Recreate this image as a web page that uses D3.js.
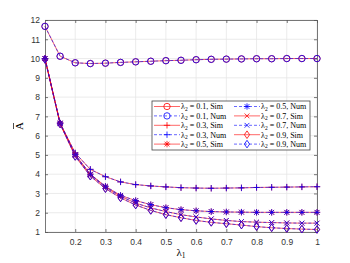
<!DOCTYPE html>
<html>
<head>
<meta charset="utf-8">
<script src="https://cdn.jsdelivr.net/npm/d3@7"></script>
<style>
  body { margin: 0; background: #fff; }
  svg { display: block; }
</style>
</head>
<body>
<script>
// -------------------- DATA --------------------
var lambda1 = [0.1, 0.15, 0.2, 0.25, 0.3, 0.35, 0.4, 0.45, 0.5, 0.55,
               0.6, 0.65, 0.7, 0.75, 0.8, 0.85, 0.9, 0.95, 1.0];

var a01 = [11.67, 10.12, 9.78, 9.74, 9.76, 9.8, 9.83, 9.86, 9.89, 9.91,
           9.94, 9.96, 9.97, 9.98, 9.99, 9.99, 10.0, 10.0, 10.0];
var a03 = [10.0, 6.65, 5.1, 4.25, 3.87, 3.6, 3.46, 3.39, 3.34, 3.3,
           3.28, 3.27, 3.28, 3.29, 3.31, 3.32, 3.33, 3.34, 3.35];
var a05 = [10.0, 6.65, 5.02, 4.0, 3.37, 2.9, 2.63, 2.42, 2.26, 2.16,
           2.1, 2.06, 2.04, 2.03, 2.02, 2.02, 2.02, 2.02, 2.02];
var a07 = [10.0, 6.62, 4.97, 3.97, 3.32, 2.85, 2.5, 2.25, 2.06, 1.9,
           1.78, 1.68, 1.6, 1.54, 1.51, 1.49, 1.47, 1.46, 1.46];
var a09 = [9.95, 6.6, 4.92, 3.9, 3.25, 2.77, 2.4, 2.12, 1.9, 1.74,
           1.6, 1.5, 1.43, 1.36, 1.28, 1.22, 1.18, 1.15, 1.13];

var lambda2 = ["0.1", "0.3", "0.5", "0.7", "0.9"];
var seriesVals = [a01, a03, a05, a07, a09];
var markers = ["circle", "plus", "star", "cross", "diamond"];

var xTicks = [0.2, 0.3, 0.4, 0.5, 0.6, 0.7, 0.8, 0.9, 1];
var yTicks = [1, 2, 3, 4, 5, 6, 7, 8, 9, 10, 11, 12];

// -------------------- DIMENSIONS --------------------
var w = 350, h = 263;
var margin = { top: 20, right: 33, bottom: 31, left: 45 };
var innerW = w - margin.left - margin.right;
var innerH = h - margin.top - margin.bottom;

var svg = d3.select("body").append("svg")
  .attr("width", w)
  .attr("height", h);

var g = svg.append("g")
  .attr("transform", "translate(" + margin.left + "," + margin.top + ")");

var x = d3.scaleLinear().domain([0.1, 1]).range([0, innerW]);
var y = d3.scaleLinear().domain([1, 12]).range([innerH, 0]);

// -------------------- GRID --------------------
g.selectAll(".gx").data(xTicks).enter().append("line")
  .attr("x1", function(d){ return x(d); })
  .attr("x2", function(d){ return x(d); })
  .attr("y1", 0).attr("y2", innerH)
  .attr("stroke", "#e6e6e6").attr("stroke-width", 0.8);

g.selectAll(".gy").data(yTicks).enter().append("line")
  .attr("x1", 0).attr("x2", innerW)
  .attr("y1", function(d){ return y(d); })
  .attr("y2", function(d){ return y(d); })
  .attr("stroke", "#e6e6e6").attr("stroke-width", 0.8);

// -------------------- AXES --------------------
var axisColor = "#555";
var tickFont = "'Liberation Sans', Arial, sans-serif";

var xAxis = d3.axisBottom(x).tickValues(xTicks).tickSizeInner(-3).tickSizeOuter(0)
  .tickFormat(d3.format("~g")).tickPadding(7);
var yAxis = d3.axisLeft(y).tickValues(yTicks).tickSizeInner(-3).tickSizeOuter(0)
  .tickPadding(5);

var gx = g.append("g").attr("transform", "translate(0," + innerH + ")").call(xAxis);
var gy = g.append("g").call(yAxis);
var gxt = g.append("g").call(d3.axisTop(x).tickValues(xTicks).tickSizeInner(-3).tickSizeOuter(0).tickFormat(""));
var gyr = g.append("g").attr("transform", "translate(" + innerW + ",0)")
  .call(d3.axisRight(y).tickValues(yTicks).tickSizeInner(-3).tickSizeOuter(0).tickFormat(""));

[gx, gy, gxt, gyr].forEach(function(a) {
  a.select(".domain").attr("stroke", axisColor).attr("stroke-width", 0.8);
  a.selectAll(".tick line").attr("stroke", axisColor).attr("stroke-width", 0.8);
  a.selectAll(".tick text").attr("fill", "#333")
    .style("font-family", tickFont).style("font-size", "8.5px");
});

// -------------------- MARKERS --------------------
function drawMarker(sel, type, cx, cy, color) {
  var r = 3.2, sw = 0.8;
  if (type === "circle") {
    sel.append("circle").attr("cx", cx).attr("cy", cy).attr("r", r)
      .attr("fill", "none").attr("stroke", color).attr("stroke-width", sw);
  } else if (type === "diamond") {
    sel.append("path")
      .attr("d", "M" + cx + "," + (cy - r - 0.6) + "L" + (cx + r - 0.6) + "," + cy +
                 "L" + cx + "," + (cy + r + 0.6) + "L" + (cx - r + 0.6) + "," + cy + "Z")
      .attr("fill", "none").attr("stroke", color).attr("stroke-width", sw);
  } else {
    var p = "";
    if (type === "plus" || type === "star") {
      p += "M" + (cx - r) + "," + cy + "L" + (cx + r) + "," + cy;
      p += "M" + cx + "," + (cy - r) + "L" + cx + "," + (cy + r);
    }
    if (type === "cross" || type === "star") {
      var q = r * 0.75;
      p += "M" + (cx - q) + "," + (cy - q) + "L" + (cx + q) + "," + (cy + q);
      p += "M" + (cx - q) + "," + (cy + q) + "L" + (cx + q) + "," + (cy - q);
    }
    sel.append("path").attr("d", p).attr("fill", "none")
      .attr("stroke", color).attr("stroke-width", sw);
  }
}

// -------------------- LINES --------------------
var line = d3.line()
  .x(function(d, i){ return x(lambda1[i]); })
  .y(function(d){ return y(d); });

var plot = g.append("g");
seriesVals.forEach(function(vals, k) {
  // Sim: red solid
  plot.append("path").datum(vals).attr("d", line)
    .attr("fill", "none").attr("stroke", "#ff0000").attr("stroke-width", 0.6);
  vals.forEach(function(v, i) {
    drawMarker(plot, markers[k], x(lambda1[i]), y(v), "#ff0000");
  });
  // Num: blue dashed
  plot.append("path").datum(vals).attr("d", line)
    .attr("fill", "none").attr("stroke", "#0000ff").attr("stroke-width", 0.6)
    .attr("stroke-dasharray", "3,2");
  vals.forEach(function(v, i) {
    drawMarker(plot, markers[k], x(lambda1[i]), y(v), "#0000ff");
  });
});

// -------------------- AXIS LABELS --------------------
svg.append("text")
  .attr("x", margin.left + innerW / 2)
  .attr("y", 256)
  .attr("text-anchor", "middle")
  .style("font-family", "'Liberation Serif', serif")
  .style("font-size", "11px")
  .html("λ<tspan font-size='7.5px' dy='2'>1</tspan>");

var yl = svg.append("g")
  .attr("transform", "translate(23," + (margin.top + innerH / 2) + ") rotate(-90)");
yl.append("text")
  .attr("text-anchor", "middle")
  .style("font-family", "'Liberation Serif', serif")
  .style("font-size", "11px")
  .text("A");
yl.append("line")
  .attr("x1", -3).attr("x2", 3).attr("y1", -9.5).attr("y2", -9.5)
  .attr("stroke", "#000").attr("stroke-width", 0.7);

// -------------------- LEGEND --------------------
var leg = svg.append("g");
leg.append("rect")
  .attr("x", 152).attr("y", 101).attr("width", 158).attr("height", 49)
  .attr("fill", "#fff").attr("stroke", "#444").attr("stroke-width", 0.8);

var entries = [];
lambda2.forEach(function(l, k) {
  entries.push({ l: l, kind: "Sim", m: markers[k] });
  entries.push({ l: l, kind: "Num", m: markers[k] });
});

entries.forEach(function(e, i) {
  var col = Math.floor(i / 5), row = i % 5;
  var x0 = 154 + col * 80, yy = 106.5 + row * 9.4;
  var color = e.kind === "Sim" ? "#ff0000" : "#0000ff";
  leg.append("line")
    .attr("x1", x0).attr("x2", x0 + 26).attr("y1", yy).attr("y2", yy)
    .attr("stroke", color).attr("stroke-width", 0.6)
    .attr("stroke-dasharray", e.kind === "Sim" ? null : "3,2");
  drawMarker(leg, e.m, x0 + 13, yy, color);
  leg.append("text")
    .attr("x", x0 + 27).attr("y", yy + 2.8)
    .style("font-family", "'Liberation Serif', serif")
    .style("font-size", "8px")
    .html("λ<tspan font-size='5.5px' dy='1.5'>2</tspan><tspan dy='-1.5'> = " + e.l + ", " + e.kind + "</tspan>");
});
</script>
</body>
</html>
